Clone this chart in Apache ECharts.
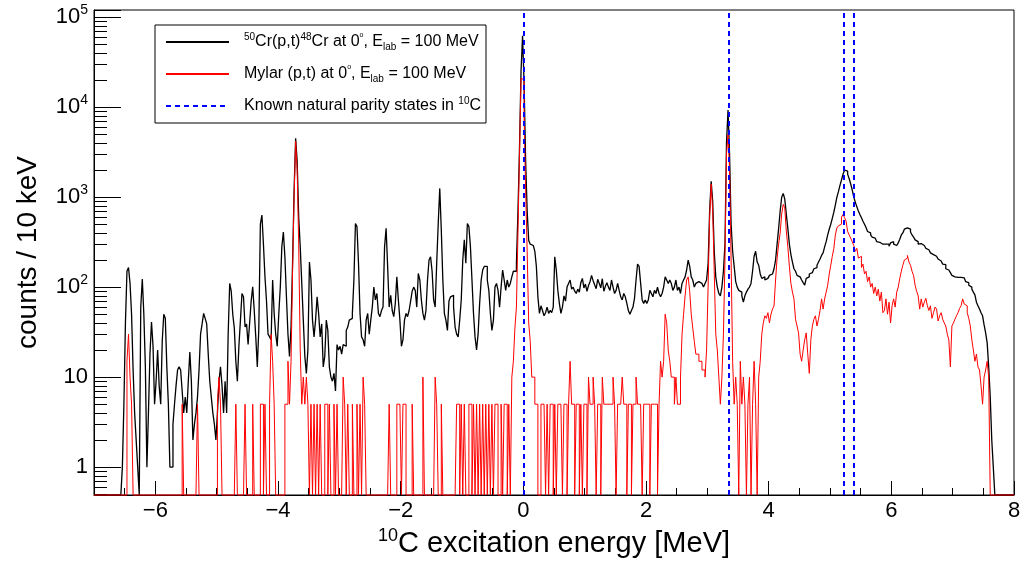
<!DOCTYPE html>
<html>
<head>
<meta charset="utf-8">
<title>10C excitation energy spectrum</title>
<script src="https://cdn.jsdelivr.net/npm/echarts@6/dist/echarts.min.js"></script>
<style>
  html, body { margin: 0; padding: 0; background: #fff; }
  #chart { width: 1024px; height: 566px; }
</style>
</head>
<body>
<div id="chart"></div>
<script>
// Histogram binning: 25 keV bins, centre of the first bin at -6.6 MeV
const FIRST_BIN = -6.6;
const BIN_W = 0.025;

// 50Cr(p,t) spectrum, counts per bin (one row = 0.5 MeV)
const crCounts = [
  0, 0, 0, 1, 5, 40, 150, 165, 110, 50, 12, 4, 2, 1, 0, 60, 123, 50, 13, 1,             // -6.6
  4, 18, 41, 22, 5, 9, 20, 8, 5, 25, 50, 45, 13, 5, 1, 1, 3, 5, 8, 12,                  // -6.1
  13, 12, 7, 4, 6, 4, 9, 19, 9, 2, 3, 4, 6, 12, 30, 39, 51, 45, 39, 18,                 // -5.6
  9, 6, 4, 3, 2, 4, 9, 13, 8, 4, 9, 4, 30, 110, 90, 50, 35, 15, 9, 22,                  // -5.1
  43, 85, 78, 36, 39, 23, 40, 70, 101, 55, 28, 13, 35, 500, 633, 300, 130, 70, 30, 28,  // -4.6
  26, 120, 51, 30, 22, 50, 100, 280, 410, 217, 78, 30, 17, 36, 184, 1200, 4500, 2500, 600, 280, // -4.1
  110, 43, 17, 11, 20, 190, 120, 43, 28, 43, 78, 51, 28, 39, 13, 17, 43, 33, 13, 10,    // -3.6
  9, 11, 7, 23, 20, 22, 18, 23, 22, 33, 36, 43, 45, 51, 120, 510, 470, 184, 51, 28,     // -3.1
  26, 22, 43, 51, 30, 43, 60, 100, 72, 85, 51, 47, 55, 60, 280, 450, 170, 60, 81, 55,   // -2.6
  47, 66, 130, 72, 43, 22, 26, 43, 51, 47, 55, 70, 90, 100, 92, 60, 142, 120, 72, 51,   // -2.1
  43, 55, 120, 200, 217, 150, 72, 60, 184, 510, 1250, 430, 120, 51, 43, 33, 70, 78, 81, 60, // -1.6
  36, 30, 28, 43, 72, 200, 335, 184, 510, 470, 280, 120, 51, 28, 20, 30, 66, 120, 155, 170, // -1.1
  170, 120, 92, 51, 33, 43, 100, 110, 92, 60, 100, 155, 120, 92, 120, 100, 110, 130, 150, 150, // -0.6
  184, 700, 3500, 25000, 62000, 18000, 2500, 700, 330, 300, 290, 280, 250, 170, 78, 51, 62, 55, 48, 52, // -0.1
  60, 51, 55, 52, 60, 217, 155, 92, 66, 51, 60, 80, 70, 100, 110, 120, 95, 100, 90, 85, // 0.4
  95, 88, 112, 125, 98, 108, 90, 104, 115, 135, 118, 106, 96, 122, 110, 98, 124, 90, 102, 112, // 0.9
  100, 92, 120, 100, 85, 92, 110, 92, 78, 72, 85, 78, 66, 55, 50, 55, 60, 75, 120, 180, // 1.4
  170, 110, 72, 66, 72, 66, 72, 92, 85, 78, 92, 85, 100, 85, 78, 85, 100, 130, 120, 110, // 1.9
  120, 110, 92, 100, 120, 92, 100, 85, 110, 120, 130, 155, 200, 170, 130, 120, 100, 110, 115, 110, // 2.4
  110, 110, 100, 110, 120, 180, 700, 1500, 900, 250, 130, 100, 85, 80, 100, 150, 300, 4000, 9300, 3000, // 2.9
  500, 250, 170, 115, 100, 92, 88, 80, 68, 80, 88, 95, 100, 110, 150, 220, 250, 190, 175, 140, // 3.4
  125, 130, 120, 125, 130, 135, 140, 145, 160, 200, 300, 450, 700, 1000, 1100, 950, 650, 450, 300, 230, // 3.9
  190, 160, 150, 135, 130, 128, 120, 112, 105, 125, 130, 140, 145, 150, 160, 165, 175, 190, 205, 225, // 4.4
  240, 280, 320, 380, 440, 500, 580, 680, 820, 1000, 1150, 1350, 1550, 1800, 2000, 1950, 1800, 1600, 1400, 1200, // 4.9
  1000, 880, 780, 700, 640, 590, 540, 500, 460, 415, 400, 380, 360, 350, 340, 320, 315, 310, 300, 295, // 5.4
  300, 290, 300, 285, 310, 320, 300, 290, 300, 310, 340, 380, 400, 440, 455, 470, 440, 410, 380, 360, // 5.9
  335, 320, 300, 305, 295, 290, 280, 270, 260, 250, 240, 230, 225, 220, 210, 205, 195, 190, 180, 178, // 6.4
  160, 155, 150, 145, 135, 130, 132, 128, 130, 128, 125, 127, 122, 115, 112, 105, 100, 95, 88, 82, // 6.9
  68, 62, 57, 52, 48, 38, 31, 24, 13, 6, 2, 1                                            // 7.4
];

// Mylar (p,t) spectrum, counts per bin (same binning)
const mylarCounts = [
  0, 0, 0, 0, 0, 0, 15, 30, 10, 5, 0, 0, 0, 0, 0, 0, 0, 0, 0, 0,                        // -6.6
  0, 0, 0, 0, 0, 0, 0, 0, 0, 0, 0, 0, 0, 0, 0, 0, 0, 0, 0, 0,                           // -6.1
  0, 0, 5, 0, 0, 0, 0, 0, 0, 0, 0, 0, 5, 0, 0, 0, 0, 0, 0, 0,                           // -5.6
  0, 0, 0, 0, 0, 5, 10, 5, 0, 0, 0, 0, 0, 0, 0, 0, 0, 5, 0, 0,                          // -5.1
  0, 0, 0, 5, 0, 0, 0, 0, 5, 0, 0, 0, 0, 5, 5, 0, 5, 0, 0, 5,                           // -4.6
  30, 15, 5, 0, 0, 0, 0, 0, 0, 5, 5, 15, 5, 15, 150, 1000, 4200, 2000, 300, 20,         // -4.1
  5, 10, 5, 10, 5, 0, 5, 0, 5, 0, 5, 0, 5, 0, 0, 5, 5, 0, 5, 0,                         // -3.6
  0, 5, 0, 5, 0, 0, 0, 10, 5, 0, 5, 0, 0, 5, 0, 0, 5, 0, 5, 0,                          // -3.1
  10, 5, 0, 0, 0, 0, 0, 0, 0, 0, 0, 0, 0, 0, 0, 0, 0, 5, 0, 0,                          // -2.6
  0, 0, 5, 5, 5, 0, 5, 5, 0, 0, 0, 0, 5, 0, 0, 0, 0, 0, 0, 10,                          // -2.1
  0, 0, 0, 0, 0, 0, 0, 10, 5, 0, 0, 5, 0, 0, 0, 0, 0, 0, 0, 0,                          // -1.6
  0, 5, 5, 0, 5, 0, 5, 0, 0, 5, 5, 0, 5, 0, 5, 0, 5, 0, 5, 0,                           // -1.1
  5, 0, 5, 0, 5, 0, 5, 5, 0, 0, 5, 0, 5, 5, 0, 5, 0, 10, 15, 35,                        // -0.6
  60, 400, 3000, 21000, 20000, 8000, 1200, 250, 40, 25, 10, 10, 5, 5, 0, 0, 5, 5, 5, 0, // -0.1
  5, 0, 5, 5, 0, 5, 0, 5, 5, 5, 0, 5, 5, 0, 5, 15, 5, 5, 0, 5,                          // 0.4
  5, 0, 5, 0, 5, 5, 0, 10, 5, 5, 10, 5, 0, 5, 5, 0, 10, 5, 5, 5,                        // 0.9
  5, 5, 5, 10, 5, 0, 5, 5, 5, 10, 5, 5, 0, 5, 5, 0, 5, 5, 10, 5,                        // 1.4
  5, 5, 0, 5, 5, 5, 5, 0, 5, 5, 5, 5, 0, 5, 15, 10, 15, 50, 40, 20,                     // 1.9
  15, 10, 10, 5, 10, 5, 5, 10, 30, 50, 80, 120, 130, 90, 50, 35, 25, 18, 18, 15,        // 2.4
  15, 12, 12, 10, 20, 100, 600, 1400, 700, 150, 30, 20, 10, 5, 10, 30, 200, 3000, 5000, 2000, // 2.9
  200, 15, 5, 10, 5, 0, 15, 5, 10, 5, 0, 5, 10, 0, 5, 15, 5, 0, 10, 15,                 // 3.4
  30, 40, 48, 45, 52, 40, 50, 57, 62, 120, 210, 300, 400, 650, 830, 760, 420, 280, 170, 110, // 3.9
  88, 74, 44, 37, 31, 18, 15, 20, 26, 31, 18, 11, 26, 37, 44, 48, 37, 44, 55, 74,       // 4.4
  57, 74, 88, 105, 140, 175, 220, 270, 380, 455, 480, 500, 600, 640, 590, 540, 415, 380, 350, 320, // 4.9
  290, 250, 270, 210, 220, 165, 180, 140, 150, 115, 130, 100, 110, 85, 100, 80, 95, 70, 88, 52, // 5.4
  55, 74, 50, 68, 40, 62, 74, 60, 88, 100, 125, 150, 175, 200, 210, 225, 190, 175, 150, 135, // 5.9
  105, 90, 80, 57, 74, 60, 68, 75, 62, 55, 62, 45, 52, 60, 57, 42, 48, 52, 44, 40,      // 6.4
  37, 30, 26, 13, 37, 40, 44, 48, 52, 58, 62, 74, 65, 62, 52, 45, 37, 26, 20, 15,       // 6.9
  18, 13, 12, 8, 5, 10, 12, 15, 10, 0, 0, 0                                            // 7.4
];

// Known natural-parity levels of 10C (MeV)
const stateEnergies = [0, 3.354, 5.22, 5.38];

const X_MIN = -7, X_MAX = 8;
const Y_MIN = 0.49, Y_MAX = 1.2e5;

const FONT = '"Liberation Sans", Arial, Helvetica, sans-serif';

const SERIES_CR = '50Cr(p,t)48Cr';
const SERIES_MYLAR = 'Mylar (p,t)';
const SERIES_STATES = 'Known natural parity states in 10C';

const legendText = {};
legendText[SERIES_CR] = '{g|}{sup|50}Cr(p,t){sup|48}Cr at 0{deg|o}, E{sub|lab} = 100 MeV';
legendText[SERIES_MYLAR] = '{g|}Mylar (p,t) at 0{deg|o}, E{sub|lab} = 100 MeV';
legendText[SERIES_STATES] = '{g|}Known natural parity states in {sup|10}C';

// Step outline of a histogram; empty bins sit on the bottom of the frame
function histPoints(counts) {
  const pts = [[X_MIN, Y_MIN]];
  counts.forEach(function (c, i) {
    const lo = FIRST_BIN + (i - 0.5) * BIN_W;
    pts.push([lo, c > 0 ? c : Y_MIN]);
  });
  const hi = FIRST_BIN + (counts.length - 0.5) * BIN_W;
  pts.push([hi, Y_MIN]);
  pts.push([X_MAX, Y_MIN]);
  return pts;
}

const chart = echarts.init(document.getElementById('chart'), null, { renderer: 'canvas' });

const legendRich = {
  g: { width: 10 },
  sup: { fontSize: 10, fontFamily: FONT, color: '#000', verticalAlign: 'top', lineHeight: 20 },
  sub: { fontSize: 10, fontFamily: FONT, color: '#000', verticalAlign: 'bottom', lineHeight: 20 },
  deg: { fontSize: 7, fontFamily: FONT, color: '#000', verticalAlign: 'top', lineHeight: 20 }
};

chart.setOption({
  animation: false,
  backgroundColor: '#fff',
  grid: {
    left: 94, right: 10, top: 10, bottom: 71,
    show: true, borderColor: '#000', borderWidth: 1,
    containLabel: false, outerBoundsMode: 'none'
  },
  legend: {
    orient: 'vertical',
    left: 155, top: 25,
    padding: [7, 5, 7, 10],
    itemGap: 12,
    itemWidth: 63, itemHeight: 14,
    borderColor: '#000', borderWidth: 1, borderRadius: 0,
    backgroundColor: '#fff',
    selectedMode: false,
    itemStyle: { opacity: 0 },
    data: [SERIES_CR, SERIES_MYLAR, SERIES_STATES],
    formatter: function (name) { return legendText[name]; },
    textStyle: { fontFamily: FONT, fontSize: 16, color: '#000', lineHeight: 20, rich: legendRich }
  },
  xAxis: {
    type: 'value',
    min: X_MIN, max: X_MAX,
    splitNumber: 7,
    axisLine: { show: true, onZero: false, lineStyle: { color: '#000', width: 1 } },
    axisTick: { show: true, inside: true, length: 14, lineStyle: { color: '#000' } },
    minorTick: { show: true, splitNumber: 4, length: 7, lineStyle: { color: '#000' } },
    splitLine: { show: false },
    axisLabel: {
      color: '#000', fontFamily: FONT, fontSize: 22, margin: 5,
      showMinLabel: false,
      formatter: function (v) { return String(v).replace('-', '\u2212'); }
    },
    name: '{sup|10}C excitation energy [MeV]',
    nameLocation: 'middle',
    nameGap: 31,
    nameTextStyle: {
      color: '#000', fontFamily: FONT, fontSize: 29, lineHeight: 34,
      rich: { sup: { fontSize: 18, fontFamily: FONT, color: '#000', verticalAlign: 'top', lineHeight: 34 } }
    }
  },
  yAxis: {
    type: 'log',
    logBase: 10,
    min: Y_MIN, max: Y_MAX,
    axisLine: { show: true, onZero: false, lineStyle: { color: '#000', width: 1 } },
    axisTick: { show: true, inside: true, length: 27, lineStyle: { color: '#000' } },
    minorTick: { show: true, splitNumber: 9, length: 13, lineStyle: { color: '#000' } },
    splitLine: { show: false },
    axisLabel: {
      color: '#000', fontFamily: FONT, fontSize: 22, margin: 6,
      showMinLabel: false, showMaxLabel: false,
      formatter: function (v) {
        const e = Math.round(Math.log10(v));
        if (Math.abs(v - Math.pow(10, e)) > 1e-6 * v) return '';
        if (e === 0) return '1';
        if (e === 1) return '10';
        return '10{s|' + e + '}';
      },
      rich: { s: { fontSize: 14, fontFamily: FONT, color: '#000', verticalAlign: 'top', lineHeight: 28 } }
    },
    name: 'counts / 10 keV',
    nameLocation: 'middle',
    nameGap: 52,
    nameTextStyle: { color: '#000', fontFamily: FONT, fontSize: 28 }
  },
  series: [
    {
      name: SERIES_CR,
      type: 'line',
      step: 'end',
      symbol: 'none',
      clip: false,
      data: histPoints(crCounts),
      lineStyle: { color: '#000', width: 1.3 },
      itemStyle: { color: '#000' }
    },
    {
      name: SERIES_MYLAR,
      type: 'line',
      step: 'end',
      symbol: 'none',
      clip: false,
      data: histPoints(mylarCounts),
      lineStyle: { color: '#ff0000', width: 1 },
      itemStyle: { color: '#ff0000' }
    },
    {
      name: SERIES_STATES,
      type: 'line',
      symbol: 'none',
      data: [],
      lineStyle: { color: '#0000ff', width: 2, type: [5, 4] },
      itemStyle: { color: '#0000ff' },
      markLine: {
        silent: true,
        symbol: ['none', 'none'],
        label: { show: false },
        emphasis: { disabled: true },
        lineStyle: { color: '#0000ff', width: 2, type: [5, 4] },
        data: stateEnergies.map(function (e) { return { xAxis: e }; })
      }
    }
  ]
});
</script>
</body>
</html>
